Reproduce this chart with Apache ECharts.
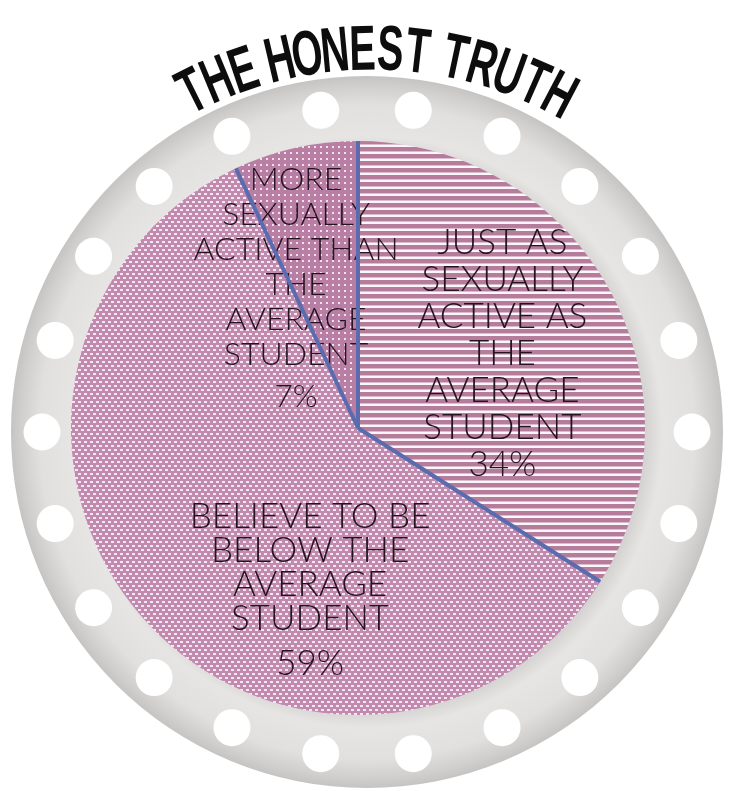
<!DOCTYPE html>
<html><head><meta charset="utf-8">
<script src="https://cdn.jsdelivr.net/npm/echarts@6/dist/echarts.min.js"></script>
<style>html,body{margin:0;padding:0;background:#fff}#c{width:750px;height:791px}</style>
</head><body><div id="c"></div>
<script>
// ---- data ----
const titleText = 'THE HONEST TRUTH';
const categories = ['Just as sexually active', 'Below the average', 'More sexually active'];
const labelLines34 = ['JUST AS', 'SEXUALLY', 'ACTIVE AS', 'THE', 'AVERAGE', 'STUDENT'];
const labelLines59 = ['BELIEVE TO BE', 'BELOW THE', 'AVERAGE', 'STUDENT'];
const labelLines7 = ['MORE', 'SEXUALLY', 'ACTIVE THAN', 'THE', 'AVERAGE', 'STUDENT'];
const values = [34, 59, 7];
const dotSlots = [0.5,1.5,2.5,3.5,4.5,5.5,6.5,7.5,8.5,9.5,10.5,11.5,12.5,13.5,14.5,15.5,16.5,17.5,18.5,19.5,20.5,21.5];

// ---- patterns ----
function stripes() {
  const c = document.createElement('canvas'); c.width = 8; c.height = 7;
  const g = c.getContext('2d');
  g.fillStyle = '#fbf6fa'; g.fillRect(0, 0, 8, 7);
  g.fillStyle = '#b57c9c'; g.fillRect(0, 0, 8, 4);
  g.fillStyle = '#dcbccd'; g.fillRect(0, 4, 8, 1);
  return c;
}
function dashes() {
  const c = document.createElement('canvas'); c.width = 6; c.height = 8;
  const g = c.getContext('2d');
  g.fillStyle = '#c28aae'; g.fillRect(0, 0, 6, 8);
  g.fillStyle = '#f6e8f1';
  g.fillRect(0, 1, 3, 2);
  g.fillRect(3, 5, 3, 2);
  return c;
}
function dots() {
  const c = document.createElement('canvas'); c.width = 6; c.height = 6;
  const g = c.getContext('2d');
  g.fillStyle = '#b87ea4'; g.fillRect(0, 0, 6, 6);
  g.fillStyle = '#f2e1ec';
  g.fillRect(2, 2, 2, 2);
  return c;
}
const fills = [stripes(), dashes(), dots()];

const PIE_C = [358, 428], PIE_R = 287;
const RING_C = [367, 432], RING_R = 356, DOT_R = 325;
const labelDefs = [
  { lines: labelLines34, size: 35, lh: 37, plh: 37, dx: 16, dy: -4 },
  { lines: labelLines59, size: 35, lh: 34, plh: 56, dx: 62, dy: 71 },
  { lines: labelLines7, size: 32, lh: 35, plh: 49, dx: -30, dy: 7 }
];
const TXT = { color: '#24141f', fontFamily: 'Lato', fontWeight: 300, align: 'center' };

const pieData = values.map((v, i) => ({
  name: categories[i], value: v,
  itemStyle: { color: { image: fills[i], repeat: 'repeat' } },
  label: {
    formatter: '{t|' + labelDefs[i].lines.join('\n') + '}\n{p|' + v + '%}',
    rich: {
      t: Object.assign({ fontSize: labelDefs[i].size, lineHeight: labelDefs[i].lh }, TXT),
      p: Object.assign({ fontSize: labelDefs[i].size, lineHeight: labelDefs[i].plh }, TXT)
    }
  }
}));

// boundaries (cumulative percentages)
const bounds = [0];
values.forEach((v, i) => { if (i < values.length - 1) bounds.push(bounds[i] + v); });

// title letters along arc
const TITLE_C = [372, 452], TITLE_R = 400;
const titleGraphics = [];
(function () {
  let ang = -26.5;
  for (let i = 0; i < titleText.length; i++) {
    const ch = titleText[i];
    if (ch === ' ') { ang += 1.45; continue; }
    const a = ang * Math.PI / 180;
    titleGraphics.push({
      type: 'text', z: 100,
      x: TITLE_C[0] + TITLE_R * Math.sin(a),
      y: TITLE_C[1] - TITLE_R * Math.cos(a),
      rotation: -a, scaleX: 0.66, scaleY: 1.06,
      style: { text: ch, font: 'bold 60px "Liberation Sans", Arial, sans-serif', fill: '#0d0d0d', align: 'center', verticalAlign: 'middle' }
    });
    ang += 3.95;
  }
})();

const chart = echarts.init(document.getElementById('c'), null, { renderer: 'canvas' });
chart.setOption({
  animation: false,
  backgroundColor: '#fff',
  graphic: [{
    type: 'circle', z: 0, silent: true,
    shape: { cx: RING_C[0], cy: RING_C[1], r: RING_R },
    style: {
      fill: new echarts.graphic.RadialGradient(0.5, 0.5, 0.5, [
        { offset: 0, color: '#e4e2e0' },
        { offset: 0.78, color: '#d4d2d0' },
        { offset: 0.83, color: '#e6e5e3' },
        { offset: 0.92, color: '#e2e0de' },
        { offset: 0.975, color: '#d0cecc' },
        { offset: 1, color: '#c6c4c2' }
      ])
    }
  }].concat(titleGraphics),
  polar: [
    { center: PIE_C, radius: PIE_R },
    { center: RING_C, radius: DOT_R }
  ],
  angleAxis: [
    { polarIndex: 0, type: 'value', min: 0, max: 100, startAngle: 90, clockwise: true, show: false },
    { polarIndex: 1, type: 'value', min: 0, max: 22, startAngle: 90, clockwise: true, show: false }
  ],
  radiusAxis: [
    { polarIndex: 0, type: 'value', min: 0, max: 1, show: false },
    { polarIndex: 1, type: 'value', min: 0, max: 1, show: false }
  ],
  series: [
    {
      type: 'scatter', coordinateSystem: 'polar', polarIndex: 1, silent: true, z: 1,
      symbol: 'circle', symbolSize: 37,
      itemStyle: { color: '#ffffff', opacity: 1 },
      data: dotSlots.map(s => [1, s])
    },
    {
      type: 'pie', center: PIE_C, radius: [0, PIE_R], startAngle: 90, clockwise: true,
      silent: true, z: 2,
      itemStyle: { borderWidth: 0 },
      label: { show: true, position: 'inside' },
      labelLine: { show: false },
      labelLayout: function (p) { return { dx: labelDefs[p.dataIndex].dx, dy: labelDefs[p.dataIndex].dy }; },
      emphasis: { disabled: true },
      data: pieData
    }
  ].concat(bounds.map(b => ({
    type: 'line', coordinateSystem: 'polar', polarIndex: 0, silent: true, z: 3,
    symbol: 'none', lineStyle: { color: '#5a6cae', width: 4 },
    data: [[0, b], [1, b]]
  })))
});
</script></body></html>
